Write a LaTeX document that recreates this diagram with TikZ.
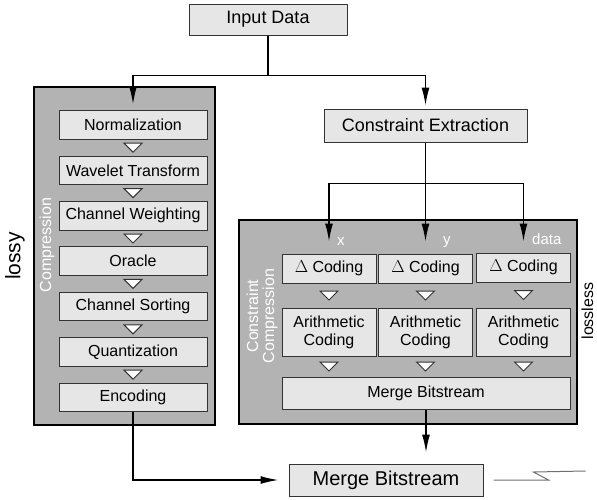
\documentclass[tikz,border=0pt]{standalone}
\usepackage{fontspec}
\setmainfont{Liberation Sans}
\usepackage{tikz}
\usetikzlibrary{arrows.meta}
\usetikzlibrary{calc}
\definecolor{panelgray}{HTML}{B3B3B3}
\definecolor{boxgray}{HTML}{E6E6E6}
\definecolor{edgecolor}{HTML}{333333}
\definecolor{channelcolor}{HTML}{707070}

\tikzset{
  box/.style={draw=edgecolor, fill=boxgray, line width=1pt, inner sep=0pt, align=center,
    font=\fontsize{16}{18}\selectfont},
  lbox/.style={box, minimum width=148pt, minimum height=28.5pt},
  dbox/.style={box, minimum width=94pt, minimum height=29pt},
  abox/.style={box, minimum width=94pt, minimum height=48pt},
  panel/.style={draw=black, fill=panelgray, line width=1.6pt, inner sep=0pt},
  wlabel/.style={text=white, inner sep=0pt, font=\fontsize{15}{16}\selectfont},
  flow/.style={line width=1.5pt, -{Latex[length=18pt,width=8pt]}},
  tri/.pic={\draw[edgecolor, fill=white, line width=1pt] (-9,-4.5) -- (9,-4.5) -- (0,4.5) -- cycle;}
}

\begin{document}
\begin{tikzpicture}[x=1pt,y=-1pt]
\useasboundingbox (0,0) rectangle (597,499);

% the two grey panels
\node[panel, minimum width=181pt, minimum height=338pt] (lossypanel) at (124.5,256) {};
\node[panel, minimum width=338pt, minimum height=204pt] (losslesspanel) at (408,322) {};

\node[box, font=\fontsize{18}{20}\selectfont, minimum width=158pt, minimum height=31pt] (input) at (268,19.5) {Input Data};
\node[box, font=\fontsize{18}{20}\selectfont, minimum width=203pt, minimum height=33pt] (extract) at (425.5,125.5) {Constraint Extraction};
\node[box, font=\fontsize{20}{22}\selectfont, minimum width=194pt, minimum height=32pt] (merge) at (386,480) {Merge Bitstream};

% lossy chain
\node[lbox] (norm) at (133,125) {Normalization};
\node[lbox] (wave) at (133,170.4) {Wavelet Transform};
\node[lbox] (weight) at (133,215.8) {Channel Weighting};
\node[lbox] (oracle) at (133,261.2) {Oracle};
\node[lbox] (sort) at (133,306.6) {Channel Sorting};
\node[lbox] (quant) at (133,352) {Quantization};
\node[lbox] (enc) at (133,397.4) {Encoding};

% lossless chain
\node[dbox] (dx) at (329,268.5) {$\Delta$ Coding};
\node[dbox] (dy) at (425.5,268.5) {$\Delta$ Coding};
\node[dbox] (dd) at (523.5,267.5) {$\Delta$ Coding};
\node[abox] (ax) at (329,332) {Arithmetic\\Coding};
\node[abox] (ay) at (425.5,332) {Arithmetic\\Coding};
\node[abox] (ad) at (523.5,332) {Arithmetic\\Coding};
\node[box, minimum width=288pt, minimum height=32pt] (mbits) at (426,393) {Merge Bitstream};

% side labels
\node[rotate=90, inner sep=0pt, font=\fontsize{21}{23}\selectfont] (lossy) at (15,256) {lossy};
\node[rotate=90, inner sep=0pt, font=\fontsize{16}{18}\selectfont] (lossless) at (587.5,311) {lossless};
\node[wlabel, rotate=90, font=\fontsize{16}{16}\selectfont] (comp) at (47,245) {Compression};
\node[wlabel, rotate=90, align=center, font=\fontsize{16}{16}\selectfont] (ccomp) at (262,316) {Constraint\\Compression};
\node[wlabel, anchor=west] (lx) at ($(dx.north)+(8,-12)$) {x};
\node[wlabel, anchor=west] (ly) at ($(dy.north)+(17.5,-11.5)$) {y};
\node[wlabel, anchor=west] (ld) at ($(dd.north)+(8.5,-13.5)$) {data};

% connectors
\coordinate (split) at ($(input.south)+(0,40)$);
\coordinate (fork) at ($(extract.south)+(0,41)$);
\draw[line width=1.5pt] (input.south) -- (split);
\draw[flow, shorten >=6pt] (split) -| (norm.north);
\draw[flow, shorten >=3pt] (split) -| (extract.north);
\draw[line width=1.5pt] (extract.south) -- (fork);
\draw[flow, shorten >=12pt] (fork) -| (dx.north);
\draw[flow, shorten >=12pt] (fork) -- (dy.north);
\draw[flow, shorten >=11pt] (fork) -| (dd.north);
\draw[flow, shorten >=11pt] (mbits.south) -- (mbits.south |- merge.north);
\draw[flow, shorten >=10pt] (enc.south) |- (merge.west);

\foreach \a/\b in {norm/wave, wave/weight, weight/oracle, oracle/sort, sort/quant, quant/enc, dx/ax, dy/ay, dd/ad}
  \pic at ($(\a.south)!0.5!(\b.north)$) {tri};
\foreach \a in {ax, ay, ad}
  \pic at ($(\a.south)!0.5!(\a.south |- mbits.north)$) {tri};

% channel
\draw[channelcolor, line width=1pt] ($(merge.east)+(10,0)$) -- ++(55,0) -- ++(-15,-8) -- ++(52,-1);

\end{tikzpicture}
\end{document}
